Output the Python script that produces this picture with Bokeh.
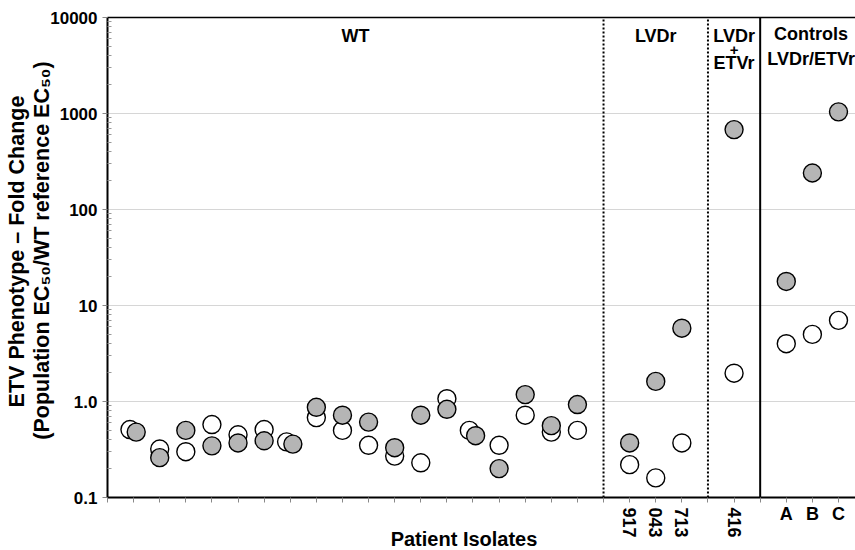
import math
from bokeh.plotting import figure
from bokeh.models import (ColumnDataSource, FixedTicker, Range1d, Label, LabelSet, LinearScale)
from bokeh.core.properties import value
from bokeh.embed import file_html
from bokeh.resources import INLINE

# ---------------- data ----------------
wt_open   = [0.51, 0.32, 0.30, 0.575, 0.45, 0.51, 0.38, 0.68, 0.50, 0.35, 0.27, 0.23, 1.07, 0.50, 0.35, 0.72, 0.48, 0.50]
wt_filled = [0.48, 0.26, 0.50, 0.345, 0.37, 0.39, 0.36, 0.87, 0.72, 0.61, 0.33, 0.72, 0.83, 0.44, 0.20, 1.18, 0.56, 0.93]
wt_side_by_side = [1, 7, 14]          # isolates whose two circles are drawn slightly apart

lvdr_labels = ["917", "043", "713"]
lvdr_open   = [0.22, 0.16, 0.37]
lvdr_filled = [0.37, 1.62, 5.8]

dual_labels = ["416"]
dual_open   = [1.97]
dual_filled = [680]

ctrl_labels = ["A", "B", "C"]
ctrl_open   = [4.0, 5.0, 7.0]
ctrl_filled = [17.8, 240, 1040]

y_ticks       = [0.1, 1, 10, 100, 1000, 10000]
y_tick_labels = ["0.1", "1.0", "10", "100", "1000", "10000"]

x_title = "Patient Isolates"
y_title_1 = "ETV Phenotype \u2013 Fold Change"
y_title_2 = "(Population EC\u2085\u2080/WT reference EC\u2085\u2080)"

# ---------------- positions of categories ----------------
wt_x = [i + 1 for i in range(len(wt_open))]
sep1 = len(wt_open) + 1
lvdr_x = [sep1 + 1 + i for i in range(len(lvdr_open))]
sep2 = lvdr_x[-1] + 1
dual_x = [sep2 + 1 + i for i in range(len(dual_open))]
sep3 = dual_x[-1] + 1
ctrl_x = [sep3 + 1 + i for i in range(len(ctrl_open))]

wt_open_x = [x - 0.14 if x in wt_side_by_side else x for x in wt_x]
wt_filled_x = [x + 0.10 if x in wt_side_by_side else x for x in wt_x]

open_x = wt_open_x + lvdr_x + dual_x + ctrl_x
open_y = wt_open + lvdr_open + dual_open + ctrl_open
filled_x = wt_filled_x + lvdr_x + dual_x + ctrl_x
filled_y = wt_filled + lvdr_filled + dual_filled + ctrl_filled

# ---------------- layout (page pixels) ----------------
W, H = 855, 550
AX_LEFT, AX_TOP, AX_BOTTOM = 107, 17, 497
SLOT = 26.107                      # pixels per category slot
DECADE = (AX_BOTTOM - AX_TOP) / 5  # pixels per decade
X_START = -AX_LEFT / SLOT
X_END = (W - AX_LEFT) / SLOT
Y_START = 10 ** (-1 - (H - AX_BOTTOM) / DECADE)
Y_END = 10 ** (4 + AX_TOP / DECADE)
FONT = "Liberation Sans"

p = figure(width=W, height=H, x_range=Range1d(X_START, X_END), y_range=Range1d(Y_START, Y_END),
           y_axis_type="log", output_backend="svg", toolbar_location=None, min_border=0)
p.title.visible = False
p.outline_line_color = None
p.background_fill_color = "white"
p.border_fill_color = "white"
p.extra_x_ranges = {"px": Range1d(0, W)}
p.extra_y_ranges = {"px": Range1d(0, H)}
p.extra_x_scales = {"px": LinearScale()}
p.extra_y_scales = {"px": LinearScale()}
p.xgrid.grid_line_color = None
p.ygrid.grid_line_color = None

x_tick_pos = list(range(0, int(X_END) + 1))

# grid lines, top border, separators (drawn first, below the points)
grid_vals = y_ticks[1:-1]
p.segment(x0=[0] * len(grid_vals), x1=[X_END] * len(grid_vals), y0=grid_vals, y1=grid_vals,
          line_color="#d6d6d6", line_width=1)
p.segment(x0=[0], x1=[X_END], y0=[y_ticks[-1]], y1=[y_ticks[-1]], line_color="black", line_width=1.5)
p.segment(x0=[sep1, sep2], x1=[sep1, sep2], y0=[y_ticks[0]] * 2, y1=[y_ticks[-1]] * 2,
          line_color="black", line_width=2, line_dash="2 2")
p.segment(x0=[sep3], x1=[sep3], y0=[y_ticks[0]], y1=[y_ticks[-1]], line_color="black", line_width=2)

# y axis
ya = p.yaxis[0]
ya.fixed_location = 0
ya.bounds = (y_ticks[0], y_ticks[-1])
ya.ticker = FixedTicker(ticks=y_ticks,
                        minor_ticks=[k * 10.0 ** e for e in range(-1, 4) for k in range(2, 10)])
ya.major_label_overrides = dict(zip(y_ticks, y_tick_labels))
ya.major_label_text_font = FONT
ya.major_label_text_font_style = "bold"
ya.major_label_text_font_size = "17px"
ya.major_label_text_color = "black"
ya.axis_line_color = "black"
ya.axis_line_width = 2
ya.major_tick_in = 0
ya.major_tick_out = 5
ya.major_tick_line_color = "#888888"
ya.minor_tick_in = 4
ya.minor_tick_out = 0
ya.minor_tick_line_color = "#999999"
ya.major_label_standoff = 5

# x axis
xa = p.xaxis[0]
xa.fixed_location = y_ticks[0]
xa.bounds = (0, X_END)
xa.ticker = FixedTicker(ticks=x_tick_pos, minor_ticks=[])
xa.major_label_overrides = {t: "" for t in x_tick_pos}
xa.axis_line_color = "black"
xa.axis_line_width = 2
xa.major_tick_in = 0
xa.major_tick_out = 5
xa.major_tick_line_color = "#888888"
xa.minor_tick_line_color = None

# points
p.scatter(open_x, open_y, marker="circle", size=18, fill_color="white",
          line_color="black", line_width=1.4)
p.scatter(filled_x, filled_y, marker="circle", size=18, fill_color="#b5b5b5",
          line_color="black", line_width=1.4)


def lab(x, y_page, text, size="18px", xr="default", **kw):
    p.add_layout(Label(x=x, y=H - y_page, text=text, x_range_name=xr, y_range_name="px",
                       text_font=FONT, text_font_style="bold", text_font_size=size,
                       text_color="black", text_baseline="middle", **kw))


# group titles (y = page pixel of the text's middle)
lab(sep1 / 2, 35, "WT", text_align="center")
lab((sep1 + sep2) / 2, 35, "LVDr", text_align="center")
lab(dual_x[0], 35, "LVDr", text_align="center")
lab(dual_x[0], 49, "+", size="15px", text_align="center")
lab(dual_x[0], 62.5, "ETVr", text_align="center")
lab(ctrl_x[1] - 0.05, 33.5, "Controls", text_align="center")
lab(ctrl_x[1] - 0.05, 58.5, "LVDr/ETVr", text_align="center")

# category labels under the axis
rot_src = ColumnDataSource(dict(x=lvdr_x + dual_x, y=[H - 507] * (len(lvdr_x) + len(dual_x)),
                                text=lvdr_labels + dual_labels))
p.add_layout(LabelSet(x="x", y="y", text="text", source=rot_src, y_range_name="px",
                      angle=-math.pi / 2, text_align="left", text_baseline="middle",
                      text_font=value(FONT), text_font_style="bold", text_font_size="18px",
                      text_color="black"))
ctrl_src = ColumnDataSource(dict(x=ctrl_x, y=[H - 513] * len(ctrl_x), text=ctrl_labels))
p.add_layout(LabelSet(x="x", y="y", text="text", source=ctrl_src, y_range_name="px",
                      text_align="center", text_baseline="middle",
                      text_font=value(FONT), text_font_style="bold", text_font_size="18px",
                      text_color="black"))

# axis titles
lab(463.5, 538, x_title, size="20px", xr="px", text_align="center")
lab(16, 251, y_title_1, size="21.5px", xr="px", angle=math.pi / 2, text_align="center")
lab(41.5, 250, y_title_2, size="21.5px", xr="px", angle=math.pi / 2, text_align="center")

open("out.html", "w").write(file_html(p, INLINE))
